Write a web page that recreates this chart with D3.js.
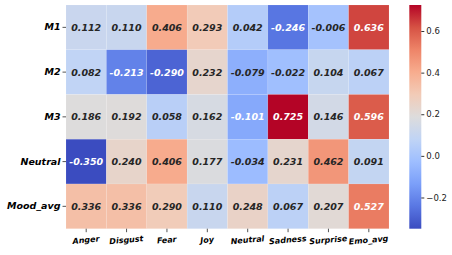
<!DOCTYPE html>
<html>
<head>
<meta charset="utf-8">
<script src="https://d3js.org/d3.v7.min.js"></script>
<style>
  body { margin: 0; background: #fff; }
  text { font-family: "DejaVu Sans", sans-serif; }
</style>
</head>
<body>
<svg width="452" height="255"></svg>
<script>
// data
var rows = ["M1", "M2", "M3", "Neutral", "Mood_avg"];
var cols = ["Anger", "Disgust", "Fear", "Joy", "Neutral", "Sadness", "Surprise", "Emo_avg"];
var m1 = [0.112, 0.110, 0.406, 0.293, 0.042, -0.246, -0.006, 0.636];
var m2 = [0.082, -0.213, -0.290, 0.232, -0.079, -0.022, 0.104, 0.067];
var m3 = [0.186, 0.192, 0.058, 0.162, -0.101, 0.725, 0.146, 0.596];
var neutral = [-0.350, 0.240, 0.406, 0.177, -0.034, 0.231, 0.462, 0.091];
var moodAvg = [0.336, 0.336, 0.290, 0.110, 0.248, 0.067, 0.207, 0.527];
var cbTicks = [-0.2, 0.0, 0.2, 0.4, 0.6];

var values = [m1, m2, m3, neutral, moodAvg];

var svg = d3.select("svg");
var hmLeft = 66, hmRight = 389, hmTop = 5, hmBottom = 228.7;

var x = d3.scaleBand().domain(cols).range([hmLeft, hmRight]);
var y = d3.scaleBand().domain(rows).range([hmTop, hmBottom]);

var vmin = d3.min(values, function(r) { return d3.min(r); });
var vmax = d3.max(values, function(r) { return d3.max(r); });

// coolwarm approximation
var cw = ["#3b4cc0", "#5977e3", "#7b9ff9", "#9ebeff", "#c0d4f5", "#dddcdc",
          "#f2cbb7", "#f7ac8e", "#ee8468", "#d65244", "#b40426"];
var cwScale = d3.scaleLinear().domain(d3.range(11).map(function(i) { return i / 10; })).range(cw);
var color = function(v) { return cwScale((v - vmin) / (vmax - vmin)); };

var cells = [];
values.forEach(function(r, i) {
  r.forEach(function(v, j) { cells.push({row: rows[i], col: cols[j], v: v}); });
});

var g = svg.append("g");
g.selectAll("rect")
  .data(cells)
  .enter()
  .append("rect")
  .attr("x", function(d) { return x(d.col); })
  .attr("y", function(d) { return y(d.row); })
  .attr("width", x.bandwidth())
  .attr("height", y.bandwidth())
  .attr("fill", function(d) { return color(d.v); })
  .attr("stroke", "rgba(255,255,255,0.2)")
  .attr("stroke-width", 0.5);

function lum(c) {
  var rgb = d3.rgb(c);
  var f = function(u) { u = u / 255; return u <= 0.03928 ? u / 12.92 : Math.pow((u + 0.055) / 1.055, 2.4); };
  return 0.2126 * f(rgb.r) + 0.7152 * f(rgb.g) + 0.0722 * f(rgb.b);
}

g.selectAll("text.ann")
  .data(cells)
  .enter()
  .append("text")
  .attr("class", "ann")
  .attr("x", function(d) { return x(d.col) + x.bandwidth() / 2; })
  .attr("y", function(d) { return y(d.row) + y.bandwidth() / 2; })
  .attr("dy", "0.36em")
  .attr("text-anchor", "middle")
  .style("font-size", "9.5px")
  .style("font-weight", "bold")
  .style("font-style", "italic")
  .attr("fill", function(d) { return lum(color(d.v)) > 0.408 ? "#262626" : "#ffffff"; })
  .text(function(d) { return d3.format(".3f")(d.v).replace("−", "-"); });

// y axis
var ya = svg.append("g")
  .attr("transform", "translate(" + hmLeft + ",0)")
  .call(d3.axisLeft(y).tickSize(3.5).tickPadding(2));
ya.select(".domain").remove();
ya.selectAll(".tick line").attr("stroke", "#555");
ya.selectAll("text")
  .style("font-size", "9.5px").style("font-weight", "bold").style("font-style", "italic")
  .attr("fill", "#000");

// x axis
var xa = svg.append("g")
  .attr("transform", "translate(0," + hmBottom + ")")
  .call(d3.axisBottom(x).tickSize(3.5).tickPadding(2));
xa.select(".domain").remove();
xa.selectAll(".tick line").attr("stroke", "#555");
xa.selectAll("text")
  .style("font-size", "8px").style("font-weight", "bold").style("font-style", "italic")
  .attr("fill", "#000")
  .attr("text-anchor", "middle")
  .attr("y", 0)
  .attr("dy", 0)
  .attr("transform", "translate(0,14) rotate(-5)");

// colorbar
var cbX = 409.3, cbW = 12;
var cy = d3.scaleLinear().domain([vmin, vmax]).range([hmBottom, hmTop]);
var defs = svg.append("defs");
var grad = defs.append("linearGradient").attr("id", "cb")
  .attr("x1", 0).attr("y1", 1).attr("x2", 0).attr("y2", 0);
cw.forEach(function(c, i) {
  grad.append("stop").attr("offset", (i * 10) + "%").attr("stop-color", c);
});
svg.append("rect")
  .attr("x", cbX).attr("y", hmTop)
  .attr("width", cbW).attr("height", hmBottom - hmTop)
  .attr("fill", "url(#cb)");

var ca = svg.append("g")
  .attr("transform", "translate(" + (cbX + cbW) + ",0)")
  .call(d3.axisRight(cy).tickValues(cbTicks).tickSize(3).tickPadding(2)
    .tickFormat(function(d) { return d3.format(".1f")(d); }));
ca.select(".domain").remove();
ca.selectAll(".tick line").attr("stroke", "#333");
ca.selectAll("text").style("font-size", "8.5px").attr("fill", "#222");
</script>
</body>
</html>
